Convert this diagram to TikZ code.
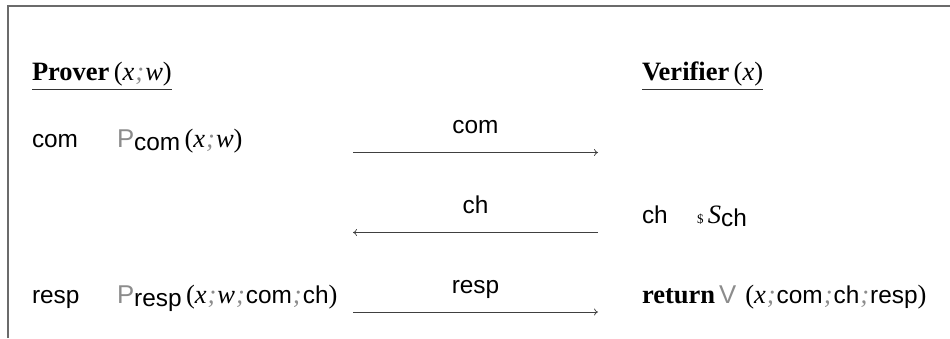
\documentclass[tikz,border=0pt]{standalone}
\usepackage{fontspec}
\setmainfont{Liberation Serif}
\setsansfont[Scale=0.92]{Liberation Sans}
\usetikzlibrary{arrows.meta}
\definecolor{framegray}{gray}{0.42}
\definecolor{arrowgray}{gray}{0.25}
\definecolor{lightsym}{gray}{0.55}
\newcommand{\sfx}[1]{\textsf{#1}}
\newcommand{\lsem}{\kern1pt\textcolor{lightsym}{\textit{;}}\kern1pt}
\newcommand{\subsf}[1]{\raisebox{-3pt}{\textsf{#1}}}
\newcommand{\bigsym}[1]{\textcolor{lightsym}{{\fontsize{28}{30}\selectfont\textsf{#1}}}}
\begin{document}
\begin{tikzpicture}[x=1pt,y=-1pt,
  txt/.style={anchor=base west,inner sep=0pt,outer sep=0pt,font=\fontsize{26.5}{30}\selectfont},
  lbl/.style={anchor=base,inner sep=0pt,outer sep=0pt,font=\fontsize{26.5}{30}\selectfont},
  msg/.style={draw=arrowgray,line width=0.7pt,-{To[length=4pt,width=7pt]}},
  frameline/.style={draw=framegray,line width=2pt}]
\useasboundingbox (0,0) rectangle (950,338);
% frame
\coordinate (fl) at (7.5,338);
\coordinate (ftl) at (7.5,5.5);
\coordinate (ftr) at (951,5.5);
\draw[frameline] (fl) -- (ftl) -- (ftr);
% headers
\node[txt] (prover) at (32,80) {\textbf{Prover}\,(\textit{x}\lsem\textit{w})};
\node[txt] (verifier) at (642,80) {\textbf{Verifier}\,(\textit{x})};
\draw[line width=1pt,draw=black!80] ([yshift=-9pt]prover.base west) -- ([yshift=-9pt]prover.base east);
\draw[line width=1pt,draw=black!80] ([yshift=-9pt]verifier.base west) -- ([yshift=-9pt]verifier.base east);
% row 1
\node[txt] (com) at (32,147) {\sfx{com}};
\node[txt] (pcom) at (117,147) {\bigsym{P}\subsf{com}\,(\textit{x}\lsem\textit{w})};
\coordinate (a1s) at (353,152.5);
\coordinate (a1e) at (598,152.5);
\draw[msg] (a1s) -- (a1e);
\node[lbl] (l1) at (475.5,133) {\sfx{com}};
% row 2
\node[txt] (ch) at (642,223) {\sfx{ch}};
\node[txt] (sch) at (697,223) {{\fontsize{13}{13}\selectfont\$}\,\textit{S}\subsf{ch}};
\coordinate (a2s) at (598,232.5);
\coordinate (a2e) at (353,232.5);
\draw[msg] (a2s) -- (a2e);
\node[lbl] (l2) at (475.5,213) {\sfx{ch}};
% row 3
\node[txt] (resp) at (32,303) {\sfx{resp}};
\node[txt] (presp) at (117,303) {\bigsym{P}\subsf{resp}\,(\textit{x}\lsem\textit{w}\lsem\sfx{com}\lsem\sfx{ch})};
\coordinate (a3s) at (353,312);
\coordinate (a3e) at (598,312);
\draw[msg] (a3s) -- (a3e);
\node[lbl] (l3) at (475.5,293) {\sfx{resp}};
\node[txt] (ret) at (642,303) {\textbf{return}\kern4pt\bigsym{V}\kern9pt(\textit{x}\lsem\sfx{com}\lsem\sfx{ch}\lsem\sfx{resp})};
\end{tikzpicture}
\end{document}
